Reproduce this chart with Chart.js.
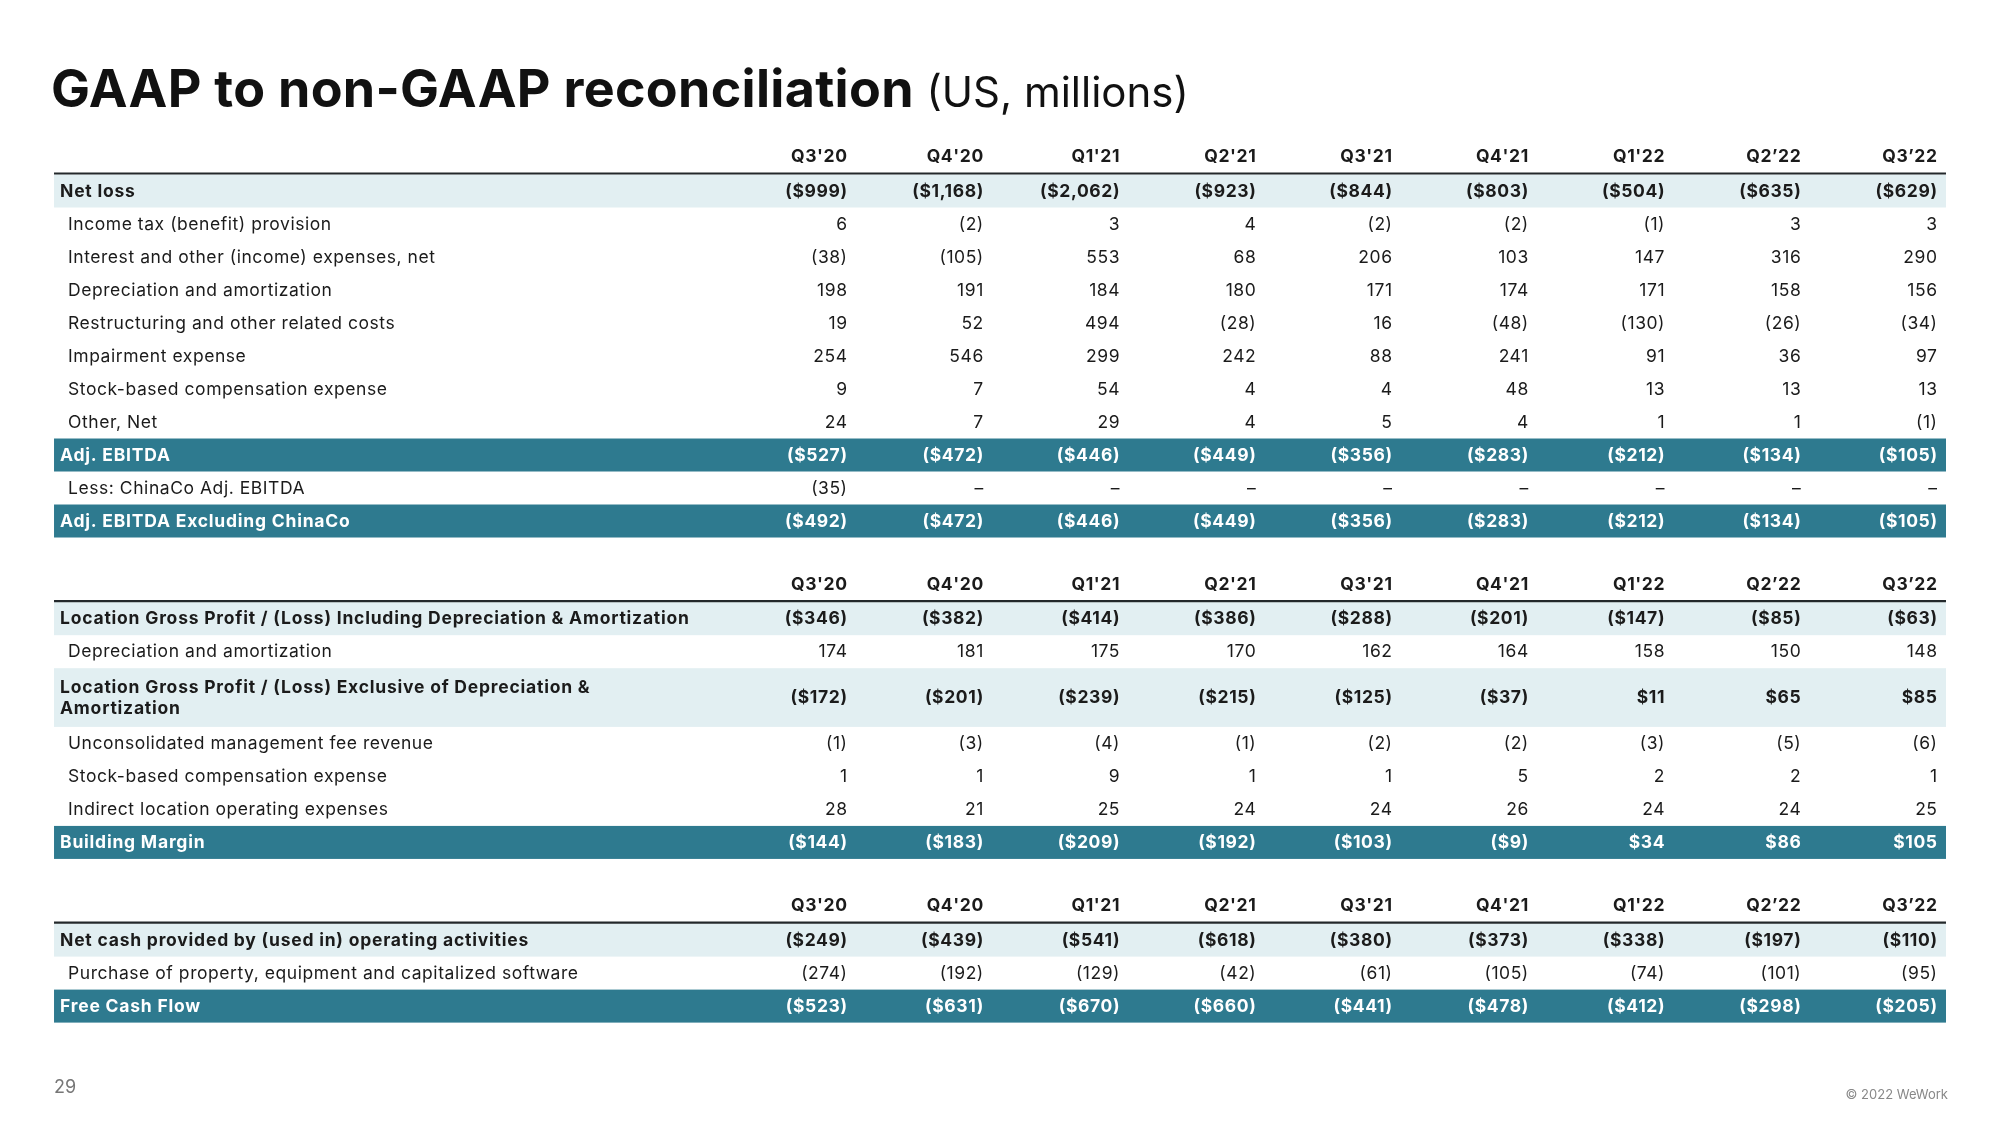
<!DOCTYPE html>
<html>
<head>
<meta charset="utf-8">
<script src="https://cdn.jsdelivr.net/npm/chart.js@4.4.0/dist/chart.umd.min.js"></script>
<style>
html,body{margin:0;padding:0;background:#fff;}
#page{position:relative;width:2000px;height:1125px;overflow:hidden;font-family:Inter,"Noto Sans",sans-serif;}
#title{position:absolute;left:51px;top:63px;font-size:52px;font-weight:700;color:#111;line-height:1;white-space:nowrap;letter-spacing:0.3px;}
#title span{font-weight:400;font-size:42px;letter-spacing:0;}
#pg{position:absolute;left:54px;top:1078px;font-size:18px;color:#777;line-height:1;}
#copy{position:absolute;right:52px;top:1088px;font-size:13px;color:#888;line-height:1;}
#wrap{position:absolute;left:0;top:0;width:2000px;height:1125px;}
</style>
</head>
<body>
<div id="page">
  <div id="wrap"><canvas id="c"></canvas></div>
  <div id="title">GAAP to non-GAAP reconciliation <span>(US, millions)</span></div>
  <div id="pg">29</div>
  <div id="copy">© 2022 WeWork</div>
</div>
<script>
// ---------- DATA ----------
const quarters = ["Q3'20","Q4'20","Q1'21","Q2'21","Q3'21","Q4'21","Q1'22","Q2\u201922","Q3\u201922"];

// Section 1: Adj. EBITDA
const netLoss          = [-999,-1168,-2062,-923,-844,-803,-504,-635,-629];
const incomeTax        = [6,-2,3,4,-2,-2,-1,3,3];
const interestOther    = [-38,-105,553,68,206,103,147,316,290];
const depAmort         = [198,191,184,180,171,174,171,158,156];
const restructuring    = [19,52,494,-28,16,-48,-130,-26,-34];
const impairment       = [254,546,299,242,88,241,91,36,97];
const stockComp        = [9,7,54,4,4,48,13,13,13];
const otherNet         = [24,7,29,4,5,4,1,1,-1];
const adjEbitda        = [-527,-472,-446,-449,-356,-283,-212,-134,-105];
const chinaCoEbitda    = [-35,null,null,null,null,null,null,null,null];
const adjEbitdaExChina = [-492,-472,-446,-449,-356,-283,-212,-134,-105];

// Section 2: Building Margin
const lgpInclDA        = [-346,-382,-414,-386,-288,-201,-147,-85,-63];
const lgpDepAmort      = [174,181,175,170,162,164,158,150,148];
const lgpExclDA        = [-172,-201,-239,-215,-125,-37,11,65,85];
const mgmtFeeRevenue   = [-1,-3,-4,-1,-2,-2,-3,-5,-6];
const lgpStockComp     = [1,1,9,1,1,5,2,2,1];
const indirectOpex     = [28,21,25,24,24,26,24,24,25];
const buildingMargin   = [-144,-183,-209,-192,-103,-9,34,86,105];

// Section 3: Free Cash Flow
const operatingCash    = [-249,-439,-541,-618,-380,-373,-338,-197,-110];
const capex            = [-274,-192,-129,-42,-61,-105,-74,-101,-95];
const freeCashFlow     = [-523,-631,-670,-660,-441,-478,-412,-298,-205];

// Row definitions (label, values, row style)
const section1 = [
  ["Net loss", netLoss, "light"],
  ["Income tax (benefit) provision", incomeTax, "plain"],
  ["Interest and other (income) expenses, net", interestOther, "plain"],
  ["Depreciation and amortization", depAmort, "plain"],
  ["Restructuring and other related costs", restructuring, "plain"],
  ["Impairment expense", impairment, "plain"],
  ["Stock-based compensation expense", stockComp, "plain"],
  ["Other, Net", otherNet, "plain"],
  ["Adj. EBITDA", adjEbitda, "dark"],
  ["Less: ChinaCo Adj. EBITDA", chinaCoEbitda, "plain"],
  ["Adj. EBITDA Excluding ChinaCo", adjEbitdaExChina, "dark"]
];
const section2 = [
  ["Location Gross Profit / (Loss) Including Depreciation & Amortization", lgpInclDA, "light"],
  ["Depreciation and amortization", lgpDepAmort, "plain"],
  ["Location Gross Profit / (Loss) Exclusive of Depreciation &\nAmortization", lgpExclDA, "tall"],
  ["Unconsolidated management fee revenue", mgmtFeeRevenue, "plain"],
  ["Stock-based compensation expense", lgpStockComp, "plain"],
  ["Indirect location operating expenses", indirectOpex, "plain"],
  ["Building Margin", buildingMargin, "dark"]
];
const section3 = [
  ["Net cash provided by (used in) operating activities", operatingCash, "light"],
  ["Purchase of property, equipment and capitalized software", capex, "plain"],
  ["Free Cash Flow", freeCashFlow, "dark"]
];
const sections = [section1, section2, section3];

// ---------- LAYOUT (row units / column units) ----------
const ROW_H = 1, TALL_H = 1.78, SECTION_GAP = 1.96, HEADER_OFFSET = 0.56;
const X_MIN = -6.2165, X_MAX = 8.4624;       // column units across the canvas
const Y_MIN = -5.788, Y_MAX = 28.303;        // row units down the canvas
const TABLE_LEFT = -5.82, TABLE_RIGHT = 8.066;

const COLORS = { dark:'#2e7a8f', light:'#e2eff2', text:'#1b1b1b', white:'#ffffff', rule:'#23282b' };
const FONT = 'Inter, "Noto Sans", sans-serif';
const FONT_SIZE = 17.5;
const BASE_OFF = 5.5;

// compute row centres
const rows = [];
const headers = [];
let cursor = -ROW_H/2;
sections.forEach((sec, si) => {
  if (si > 0) cursor += SECTION_GAP;
  headers.push({ top: cursor, u: cursor - HEADER_OFFSET });
  sec.forEach(([label, values, kind]) => {
    const h = kind === 'tall' ? TALL_H : ROW_H;
    rows.push({ label, values, kind, u: cursor + h/2, h });
    cursor += h;
  });
});

function fmt(v, money) {
  if (v === null || v === undefined) return '\u2013';
  const s = Math.abs(v).toLocaleString('en-US');
  if (money) return v < 0 ? '($' + s + ')' : '$' + s;
  return v < 0 ? '(' + s + ')' : s;
}
function setFont(ctx, bold, spacing) {
  ctx.font = (bold ? '700 ' : '400 ') + FONT_SIZE + 'px ' + FONT;
  ctx.letterSpacing = spacing + 'px';
}
function fillRight(ctx, txt, x, y, spacing) {
  ctx.textAlign = 'right';
  ctx.fillText(txt, x + spacing, y);
}

const tablePlugin = {
  id: 'tablePlugin',
  beforeDatasetsDraw(chart) {
    const { ctx, scales: { x, y } } = chart;
    const xl = x.getPixelForValue(TABLE_LEFT), xr = x.getPixelForValue(TABLE_RIGHT);
    ctx.save();
    rows.forEach(r => {
      if (r.kind === 'plain') return;
      const top = y.getPixelForValue(r.u - r.h/2);
      const bot = y.getPixelForValue(r.u + r.h/2);
      ctx.fillStyle = r.kind === 'dark' ? COLORS.dark : COLORS.light;
      ctx.fillRect(xl, top, xr - xl, bot - top);
    });
    headers.forEach(hd => {
      const ly = y.getPixelForValue(hd.top) - 1;
      ctx.strokeStyle = COLORS.rule;
      ctx.lineWidth = 2.2;
      ctx.beginPath(); ctx.moveTo(xl, ly); ctx.lineTo(xr, ly); ctx.stroke();
      ctx.fillStyle = COLORS.text;
      setFont(ctx, true, 0.6);
      ctx.textBaseline = 'alphabetic';
      const ty = y.getPixelForValue(hd.u) + 6;
      quarters.forEach((q, i) => fillRight(ctx, q, x.getPixelForValue(i), ty, 0.6));
    });
    ctx.restore();
  },
  afterDatasetsDraw(chart) {
    const { ctx, scales: { x, y } } = chart;
    const xl = x.getPixelForValue(TABLE_LEFT);
    ctx.save();
    ctx.textBaseline = 'alphabetic';
    chart.data.datasets.forEach((ds, di) => {
      const r = rows[di];
      const bold = r.kind !== 'plain';
      ctx.fillStyle = r.kind === 'dark' ? COLORS.white : COLORS.text;
      // row label
      setFont(ctx, bold, bold ? 0.78 : 0.55);
      ctx.textAlign = 'left';
      const lines = r.label.split('\n');
      const cy = y.getPixelForValue(r.u);
      const lx = xl + (bold ? 6 : 14);
      lines.forEach((ln, li) => {
        const off = (li - (lines.length - 1) / 2) * 21;
        ctx.fillText(ln, lx, cy + off + BASE_OFF);
      });
      // values, positioned by the chart's point elements
      const sp = bold ? 0.6 : 0.55;
      setFont(ctx, bold, sp);
      const meta = chart.getDatasetMeta(di);
      meta.data.forEach((pt, i) => {
        fillRight(ctx, fmt(r.values[i], bold), pt.x, pt.y + BASE_OFF, sp);
      });
    });
    ctx.restore();
  }
};

new Chart(document.getElementById('c'), {
  type: 'scatter',
  data: {
    datasets: rows.map(r => ({
      label: r.label,
      data: r.values.map((v, i) => ({ x: i, y: r.u })),
      pointRadius: 0,
      pointHoverRadius: 0,
      showLine: false
    }))
  },
  options: {
    responsive: true,
    maintainAspectRatio: false,
    animation: false,
    events: [],
    layout: { padding: 0 },
    plugins: { legend: { display: false }, tooltip: { enabled: false }, title: { display: false } },
    scales: {
      x: { type: 'linear', display: false, min: X_MIN, max: X_MAX },
      y: { type: 'linear', display: false, min: Y_MIN, max: Y_MAX, reverse: true }
    }
  },
  plugins: [tablePlugin]
});
</script>
</body>
</html>
